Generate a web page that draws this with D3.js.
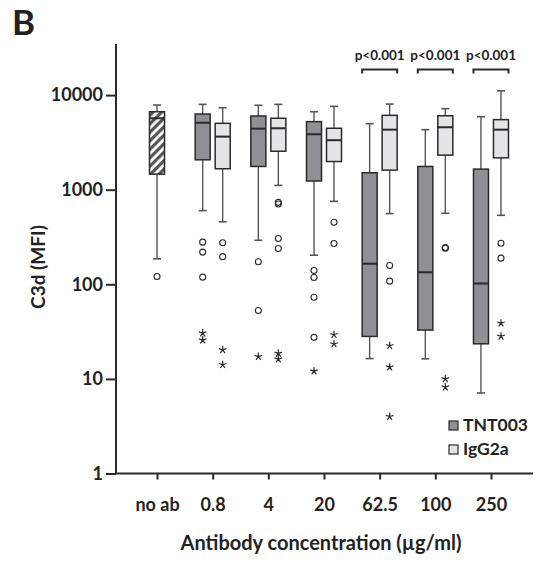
<!DOCTYPE html>
<html>
<head>
<meta charset="utf-8">
<script src="https://cdn.jsdelivr.net/npm/d3@7"></script>
<style>
  body { margin: 0; background: #fff; }
  text { font-family: Lato, "Open Sans", sans-serif; font-weight: bold; fill: #222; }
</style>
</head>
<body>
<div id="chart"></div>
<script>
// categories and box statistics
const categories = ["no ab", "0.8", "4", "20", "62.5", "100", "250"];
const yTicks = [1, 10, 100, 1000, 10000];

// no antibody control: [whisker low, q1, median, q3, whisker high]
const noAbBox = [186, 1460, 5690, 6670, 7850];
const noAbOutliers = [121];

// TNT003, categories 0.8 .. 250
const tntWhiskLo = [601, 292, 203, 16.4, 16.3, 7.1];
const tntQ1 = [2070, 1760, 1235, 28.1, 32.8, 23.5];
const tntMedian = [5100, 4420, 3855, 165, 134, 102];
const tntQ3 = [6310, 6010, 5240, 1510, 1760, 1650];
const tntWhiskHi = [7980, 7800, 6670, 4990, 4310, 5910];
const tntOutliers = [[279, 219, 119], [173, 52.8], [140, 118, 73, 27.5], [], [], []];
const tntExtremes = [[30.5, 25.7], [17.2], [12.1], [], [], []];

// IgG2a, categories 0.8 .. 250
const igWhiskLo = [457, 1110, 753, 559, 563, 536];
const igQ1 = [1665, 2550, 1985, 1610, 2320, 2170];
const igMedian = [3640, 4460, 3335, 4310, 4570, 4310];
const igQ3 = [5030, 5690, 4460, 6110, 6050, 5500];
const igWhiskHi = [7350, 7980, 7600, 8040, 7180, 11100];
const igOutliers = [[275, 196], [735, 707, 305, 239], [453, 270], [158, 108], [245, 240], [272, 189]];
const igExtremes = [[20.3, 14.1], [18.6, 16.2], [29.3, 23.4], [22.4, 13.3, 4.0], [10, 8.2], [38.8, 28.2]];

const sigLabels = ["", "", "", "", "p<0.001", "p<0.001", "p<0.001"];

const width = 537, height = 564;
const ink = "#2a2a2a", whiskColor = "#555";
const tntFill = "#8f9094", igFill = "#e4e5e7";
const boxW = 15, offset = 10;

const svg = d3.select("#chart").append("svg")
    .attr("width", width)
    .attr("height", height);

let defs = svg.append("defs");
let pat = defs.append("pattern")
    .attr("id", "hatch")
    .attr("patternUnits", "userSpaceOnUse")
    .attr("width", 6).attr("height", 6)
    .attr("patternTransform", "rotate(-45)");
pat.append("rect").attr("width", 6).attr("height", 6).attr("fill", "#fff");
pat.append("rect").attr("width", 6).attr("height", 3.2).attr("fill", "#555");

let x = d3.scalePoint()
    .domain(categories)
    .range([115, 533])
    .padding(0.755);

let y = d3.scaleLog()
    .domain([1, Math.pow(10, 4.54)])
    .range([473.5, 44]);

// axes
let yAxis = svg.append("g")
    .attr("transform", "translate(116,0)")
    .call(d3.axisLeft(y).tickValues(yTicks).tickFormat(d3.format("d")).tickSize(10).tickPadding(3));
yAxis.select(".domain").attr("stroke", ink).attr("stroke-width", 2).attr("d", `M0,${y.range()[1]}V${y.range()[0]}`);
yAxis.selectAll(".tick line").attr("stroke", ink).attr("stroke-width", 2);
yAxis.selectAll(".tick text").attr("font-size", 18).attr("fill", "#222")
    .attr("font-family", "Lato, sans-serif").attr("font-weight", "bold");

let xAxis = svg.append("g")
    .attr("transform", `translate(0,${y(1)})`)
    .call(d3.axisBottom(x).tickSize(6).tickPadding(19));
xAxis.select(".domain").attr("stroke", ink).attr("stroke-width", 2).attr("d", "M115,0H533");
xAxis.selectAll(".tick line").attr("stroke", ink).attr("stroke-width", 2);
xAxis.selectAll(".tick text").attr("font-size", 18).attr("fill", "#222")
    .attr("font-family", "Lato, sans-serif").attr("font-weight", "bold");

svg.append("text")
    .attr("x", 321).attr("y", 550)
    .attr("text-anchor", "middle")
    .attr("font-size", 20)
    .text("Antibody concentration (µg/ml)");

svg.append("text")
    .attr("transform", "translate(45,267) rotate(-90)")
    .attr("text-anchor", "middle")
    .attr("font-size", 19)
    .text("C3d (MFI)");

svg.append("text")
    .attr("x", 12).attr("y", 35)
    .attr("font-size", 35)
    .text("B");

// build box records
let boxes = [{cx: x(categories[0]), s: noAbBox, fill: "url(#hatch)", outliers: noAbOutliers, extremes: []}];
categories.slice(1).forEach((c, i) => {
  boxes.push({cx: x(c) - offset, s: [tntWhiskLo[i], tntQ1[i], tntMedian[i], tntQ3[i], tntWhiskHi[i]],
              fill: tntFill, outliers: tntOutliers[i], extremes: tntExtremes[i]});
  boxes.push({cx: x(c) + offset, s: [igWhiskLo[i], igQ1[i], igMedian[i], igQ3[i], igWhiskHi[i]],
              fill: igFill, outliers: igOutliers[i], extremes: igExtremes[i]});
});

let g = svg.selectAll("g.box")
    .data(boxes)
    .enter().append("g")
    .attr("class", "box");

// whiskers
g.append("line")
    .attr("x1", (d) => d.cx).attr("x2", (d) => d.cx)
    .attr("y1", (d) => y(d.s[0])).attr("y2", (d) => y(d.s[4]))
    .attr("stroke", whiskColor).attr("stroke-width", 1.4);
g.selectAll("line.cap")
    .data((d) => [d.s[0], d.s[4]].map((v) => ({cx: d.cx, v: v})))
    .enter().append("line")
    .attr("class", "cap")
    .attr("x1", (d) => d.cx - 4).attr("x2", (d) => d.cx + 4)
    .attr("y1", (d) => y(d.v)).attr("y2", (d) => y(d.v))
    .attr("stroke", whiskColor).attr("stroke-width", 1.6);

g.append("rect")
    .attr("x", (d) => d.cx - boxW / 2)
    .attr("width", boxW)
    .attr("y", (d) => y(d.s[3]))
    .attr("height", (d) => y(d.s[1]) - y(d.s[3]))
    .attr("fill", (d) => d.fill)
    .attr("stroke", ink).attr("stroke-width", 1.5);

g.append("line")
    .attr("x1", (d) => d.cx - boxW / 2).attr("x2", (d) => d.cx + boxW / 2)
    .attr("y1", (d) => y(d.s[2])).attr("y2", (d) => y(d.s[2]))
    .attr("stroke", ink).attr("stroke-width", 2);

g.selectAll("circle")
    .data((d) => d.outliers.map((v) => ({cx: d.cx, v: v})))
    .enter().append("circle")
    .attr("cx", (d) => d.cx).attr("cy", (d) => y(d.v))
    .attr("r", 3)
    .attr("fill", "none").attr("stroke", ink).attr("stroke-width", 1.1);

// asterisk marks for extreme values
function asterisk(r) {
  let p = d3.path();
  for (let k = 0; k < 5; k++) {
    let a = -Math.PI / 2 + k * 2 * Math.PI / 5;
    p.moveTo(0, 0);
    p.lineTo(r * Math.cos(a), r * Math.sin(a));
  }
  return p.toString();
}
g.selectAll("path.ext")
    .data((d) => d.extremes.map((v) => ({cx: d.cx, v: v})))
    .enter().append("path")
    .attr("class", "ext")
    .attr("transform", (d) => `translate(${d.cx},${y(d.v)})`)
    .attr("d", asterisk(4))
    .attr("stroke", ink).attr("stroke-width", 1.2).attr("fill", "none");

// significance brackets
let sig = svg.selectAll("g.sig")
    .data(categories.filter((c, i) => sigLabels[i]))
    .enter().append("g")
    .attr("class", "sig")
    .attr("transform", (c) => `translate(${x(c)},0)`);
sig.append("path")
    .attr("d", `M${-offset - boxW / 2},73.5V69.5H${offset + boxW / 2}V73.5`)
    .attr("fill", "none").attr("stroke", ink).attr("stroke-width", 2);
sig.append("text")
    .attr("y", 60)
    .attr("text-anchor", "middle")
    .attr("font-size", 13.5)
    .text((c) => sigLabels[categories.indexOf(c)]);

// legend
let legend = svg.selectAll("g.legend")
    .data([["TNT003", tntFill], ["IgG2a", igFill]])
    .enter().append("g")
    .attr("class", "legend")
    .attr("transform", (d, i) => `translate(449,${421 + i * 24})`);
legend.append("rect")
    .attr("width", 9).attr("height", 9)
    .attr("fill", (d) => d[1])
    .attr("stroke", ink).attr("stroke-width", 1.2);
legend.append("text")
    .attr("x", 14).attr("y", 10)
    .attr("font-size", 17.5)
    .text((d) => d[0]);
</script>
</body>
</html>
